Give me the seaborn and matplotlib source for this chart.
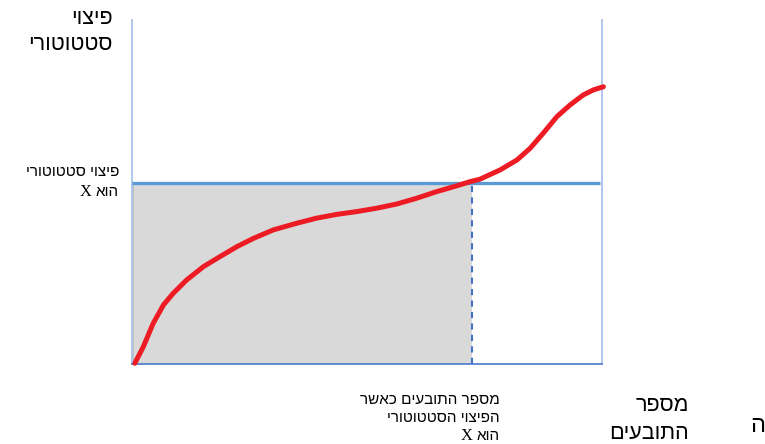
import matplotlib
matplotlib.use("Agg")
import matplotlib.pyplot as plt
import seaborn as sns
import pandas as pd

# --- data ---
claimants = [0.6, 2.4, 4.5, 6.7, 8.8, 11.6, 15.2, 18.7, 22.3, 25.8, 30.1, 35.0,
             39.3, 43.6, 47.8, 52.1, 56.3, 60.6, 64.8, 69.1, 71.9, 74.0, 78.3,
             81.9, 84.7, 87.5, 90.4, 93.2, 96.0, 98.2, 100.3]
compensation = [0.2, 5.0, 11.8, 17.2, 20.6, 24.4, 28.3, 31.2, 34.1, 36.5, 39.0, 40.9,
                42.4, 43.5, 44.3, 45.3, 46.5, 48.2, 50.1, 51.8, 53.0, 53.7, 56.4,
                59.3, 62.7, 67.1, 71.9, 75.3, 78.2, 79.7, 80.6]
statutory_level = 52.6
claimants_at_level = 72.3

y_title = ["פיצוי", "סטטוטורי"]
level_label = ["פיצוי סטטוטורי", "הוא"]
x_note = ["מספר התובעים כאשר", "הפיצוי הסטטוטורי", "הוא"]
x_title = ["מספר", "התובעים"]
stray = "ה"


def rtl(s):
    return s[::-1]


sns.set_theme(style="white")
plt.rcParams["font.family"] = ["Liberation Sans", "DejaVu Sans"]

W, H = 765, 444
fig = plt.figure(figsize=(W / 100, H / 100), dpi=100)
L, R, B, T = 132, 602, 364, 20
ax = fig.add_axes([L / W, 1 - B / H, (R - L) / W, (B - T) / H])
ax.set_xlim(0, 100)
ax.set_ylim(0, 100)
ax.set_xticks([])
ax.set_yticks([])
ax.set_facecolor("none")

ax.spines["top"].set_visible(False)
ax.spines["left"].set_color("#a9c1ea")
ax.spines["left"].set_linewidth(1.3)
ax.spines["right"].set_color("#a9c1ea")
ax.spines["right"].set_linewidth(1.3)
ax.spines["bottom"].set_color("#4a78cc")
ax.spines["bottom"].set_linewidth(1.2)

# grey area
ax.fill_between([0, claimants_at_level], 0, statutory_level, color="#d9d9d9",
                edgecolor="none", zorder=1)
ax.plot([0.15, 0.15], [0, statutory_level], color="#bfbfbf", lw=1.2, zorder=1.5)

# dashed vertical
ax.plot([claimants_at_level, claimants_at_level], [0, statutory_level],
        color="#4472c4", lw=1.5, ls=(0, (3, 2.5)), zorder=2)

# horizontal level line
ax.plot([0, 99.6], [statutory_level, statutory_level], color="#5b9bd5",
        lw=2.4, zorder=3, solid_capstyle="butt")

# red curve
df = pd.DataFrame({"claimants": claimants, "compensation": compensation})
sns.lineplot(data=df, x="claimants", y="compensation", ax=ax, color="#ed1c24",
             lw=3.6, sort=False, zorder=4, clip_on=False,
             solid_joinstyle="round", solid_capstyle="round")
ax.set_xlabel("")
ax.set_ylabel("")


def ftext(x, y, s, size, ha="right", family=None, **kw):
    kwargs = dict(ha=ha, va="center", fontsize=size, color="black")
    if family is not None:
        kwargs["family"] = family
    kwargs.update(kw)
    return fig.text(x / W, 1 - y / H, s, **kwargs)


def hebrew_with_x(xr, y, heb, size):
    t = ftext(xr, y, rtl(heb), size)
    fig.canvas.draw()
    bb = t.get_window_extent(renderer=fig.canvas.get_renderer())
    fig.text(bb.x0 / W, 1 - y / H, "X ", ha="right", va="center",
             fontsize=size * 1.08, family=["Liberation Serif", "DejaVu Serif"],
             color="black")


# y title
ftext(113, 19, rtl(y_title[0]), 15.5)
ftext(113, 45, rtl(y_title[1]), 15.5)

# level label
ftext(119, 172, rtl(level_label[0]), 11)
hebrew_with_x(119, 192, level_label[1], 11)

# x note under dashed line
ftext(500, 400, rtl(x_note[0]), 11)
ftext(500, 418, rtl(x_note[1]), 11)
hebrew_with_x(500, 436, x_note[2], 11)

# x title
ftext(689, 405, rtl(x_title[0]), 15.5)
ftext(689, 433, rtl(x_title[1]), 15.5)

# stray letter at right edge
ftext(750, 426, stray, 17, ha="left")

fig.savefig("out.png", dpi=100)
